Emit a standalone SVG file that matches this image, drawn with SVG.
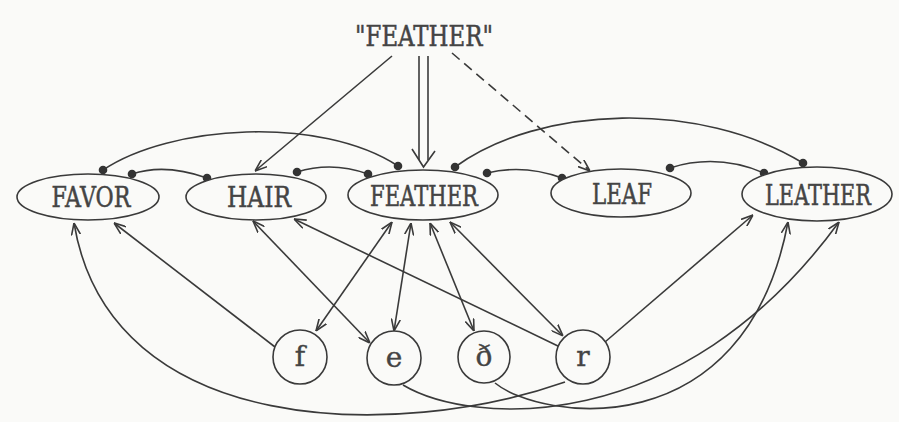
<svg xmlns="http://www.w3.org/2000/svg" width="899" height="422" viewBox="0 0 899 422">
  <style>
    .edge { fill: none; stroke: #3a3a3a; stroke-width: 1.6; }
    .arr { marker-end: url(#head); }
    .bi { marker-start: url(#head); marker-end: url(#head); }
    .inh { marker-start: url(#dot); marker-end: url(#dot); }
    .dash { stroke-dasharray: 10 6; }
    .word { fill: #fafaf8; stroke: #3a3a3a; stroke-width: 1.6; }
    .word-label { font-family: "DejaVu Serif", "Liberation Serif", serif; font-size: 27px; fill: #444; stroke: #444; stroke-width: 0.5; text-anchor: middle; }
    .phon-label { font-family: "DejaVu Serif", "Liberation Serif", serif; font-size: 28px; fill: #444; stroke: #444; stroke-width: 0.4; text-anchor: middle; }
  </style>
  <defs>
    <marker id="head" viewBox="0 0 12 10" refX="12" refY="5" markerWidth="12" markerHeight="10" markerUnits="userSpaceOnUse" orient="auto-start-reverse">
      <path d="M0,0.5 L12,5 L0,9.5" fill="none" stroke="#3a3a3a" stroke-width="1.6"/>
    </marker>
    <marker id="dot" viewBox="-5 -5 10 10" refX="0" refY="0" markerWidth="10" markerHeight="10" markerUnits="userSpaceOnUse">
      <circle r="4.3" fill="#333"/>
    </marker>
  </defs>

  <rect width="899" height="422" fill="#fafaf8"/>

  <g id="connectors">
    <!-- input "FEATHER" to word units -->
    <line class="edge arr" x1="392" y1="56" x2="255" y2="171"/>
    <line class="edge" x1="419" y1="56" x2="419" y2="160"/>
    <line class="edge" x1="428" y1="56" x2="428" y2="160"/>
    <path class="edge" d="M412,149 L423.5,167 L435,151"/>
    <line class="edge arr dash" x1="452" y1="53" x2="590" y2="171"/>

    <!-- inhibitory links between word units -->
    <path class="edge inh" d="M132,174 Q165,163 207,178"/>
    <path class="edge inh" d="M103,170 C170,125 320,115 398,166"/>
    <path class="edge inh" d="M297,172 Q332,161 368,174"/>
    <path class="edge inh" d="M487,173 Q524,164 562,178"/>
    <path class="edge inh" d="M455,167 C540,105 700,100 803,163"/>
    <path class="edge inh" d="M670,168 Q717,153 764,173"/>

    <!-- phoneme to word links -->
    <line class="edge arr" x1="275" y1="347" x2="114" y2="223"/>
    <path class="edge arr" d="M565,382 C400,440 110,440 74,223"/>
    <line class="edge bi" x1="370" y1="343" x2="253" y2="221"/>
    <line class="edge arr" x1="560" y1="347" x2="294" y2="219"/>
    <line class="edge bi" x1="316" y1="331" x2="392" y2="222"/>
    <line class="edge bi" x1="394" y1="331" x2="411" y2="223"/>
    <line class="edge bi" x1="474" y1="331" x2="430" y2="223"/>
    <line class="edge bi" x1="563" y1="336" x2="450" y2="222"/>
    <line class="edge arr" x1="605" y1="342" x2="753" y2="215"/>
    <path class="edge arr" d="M403,385 C470,425 680,440 839,222"/>
    <path class="edge arr" d="M495,383 C540,420 745,450 788,222"/>
  </g>

  <text x="424" y="46" class="word-label" textLength="138" lengthAdjust="spacingAndGlyphs">"FEATHER"</text>

  <g id="node-favor">
    <ellipse class="word" cx="88" cy="197" rx="71" ry="23"/>
    <text x="91" y="207" class="word-label" textLength="79" lengthAdjust="spacingAndGlyphs">FAVOR</text>
  </g>
  <g id="node-hair">
    <ellipse class="word" cx="256" cy="197" rx="70" ry="23"/>
    <text x="259" y="207" class="word-label" textLength="64" lengthAdjust="spacingAndGlyphs">HAIR</text>
  </g>
  <g id="node-feather">
    <ellipse class="word" cx="423" cy="195" rx="75" ry="25"/>
    <text x="424" y="206" class="word-label" textLength="108" lengthAdjust="spacingAndGlyphs">FEATHER</text>
  </g>
  <g id="node-leaf">
    <ellipse class="word" cx="621" cy="193" rx="70" ry="24"/>
    <text x="622" y="204" class="word-label" textLength="60" lengthAdjust="spacingAndGlyphs">LEAF</text>
  </g>
  <g id="node-leather">
    <ellipse class="word" cx="817" cy="194" rx="75" ry="27"/>
    <text x="818" y="205" class="word-label" textLength="106" lengthAdjust="spacingAndGlyphs">LEATHER</text>
  </g>

  <g id="node-f">
    <circle class="word" cx="300" cy="357" r="27"/>
    <text x="300" y="366" class="phon-label">f</text>
  </g>
  <g id="node-e">
    <circle class="word" cx="394" cy="358" r="27"/>
    <text x="394" y="367" class="phon-label">e</text>
  </g>
  <g id="node-eth">
    <circle class="word" cx="484" cy="357" r="26"/>
    <text x="484" y="366" class="phon-label">ð</text>
  </g>
  <g id="node-r">
    <circle class="word" cx="583" cy="357" r="27"/>
    <text x="583" y="366" class="phon-label">r</text>
  </g>
</svg>
